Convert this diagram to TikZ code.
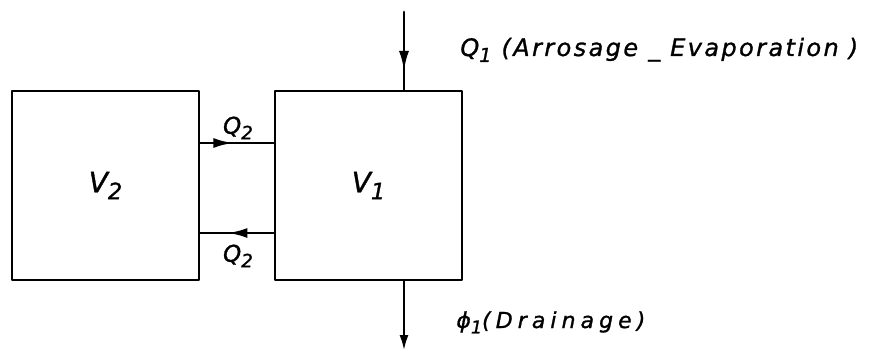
\documentclass[tikz,border=0pt]{standalone}
\usepackage{fontspec}
\setmainfont{DejaVu Sans}
\newfontfamily\lettering{DejaVu Sans}[LetterSpace=10, FakeBold=1.2]
\newfontfamily\spaced{DejaVu Sans}[LetterSpace=23, FakeBold=1.2]
\newcommand\idx[1]{\raisebox{-0.45ex}{\scalebox{0.8}{#1}}}
\usetikzlibrary{arrows.meta, decorations.markings, positioning}
\tikzset{el/.style={line cap=round, line join=round, line width=2.8pt},
  tank/.style={draw, minimum width=187pt, minimum height=189pt, inner sep=0pt, font=\lettering\itshape\fontsize{28}{32}\selectfont},
  lbl/.style={inner sep=0pt, font=\spaced\itshape\fontsize{22}{26}\selectfont},
  midflow/.style={postaction={decorate}, decoration={markings, mark=at position #1 with {\arrow{Latex[length=20pt,width=10pt]}}}}}
\begin{document}
\begin{tikzpicture}[el, x=1pt, y=-1pt]
  \useasboundingbox (0,0) rectangle (880,353);
  \node[tank] (v2) at (105.5,185.5) {V\idx{2}};
  \node[tank] (v1) at (368.5,185.5) {V\idx{1}};
  \coordinate (in) at (404,12);
  \coordinate (out) at (404,351);
  \draw[midflow=0.76] (in) -- (in |- v1.north);
  \draw[-{Latex[length=16pt,width=9pt]}] (out |- v1.south) -- (out);
  \draw[midflow=0.45] (v2.east |- 0,143) -- (v1.west |- 0,143);
  \draw[midflow=0.63] (v1.west |- 0,233) -- (v2.east |- 0,233);
  \node[lbl, font=\spaced\itshape\fontsize{23}{27}\selectfont] (q2in) at (238,128) {Q\idx{2}};
  \node[lbl, font=\spaced\itshape\fontsize{23}{27}\selectfont] (q2out) at (238,256) {Q\idx{2}};
  \node[lbl, anchor=base west, font=\lettering\itshape\fontsize{24}{28}\selectfont] (q1) at (459,56) {Q\idx{1} (Arrosage \_ Evaporation )};
  \node[lbl, anchor=base west] (phi1) at (455,328) {ϕ\idx{1}(Drainage)};
\end{tikzpicture}
\end{document}
